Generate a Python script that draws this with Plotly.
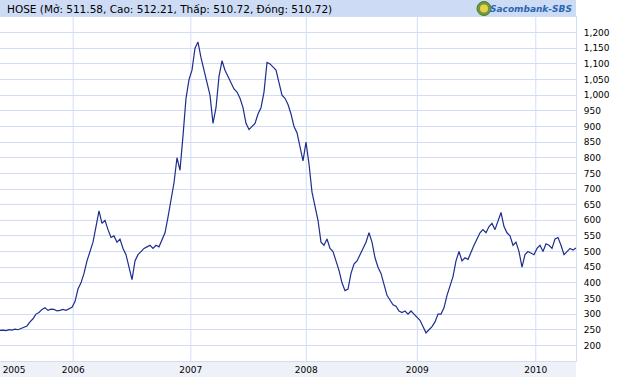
import plotly.graph_objects as go

hose_values = [
    248, 249, 247, 250, 249, 252, 250, 254, 258, 262,
    275, 285, 300, 305, 315, 320, 312, 316, 315, 310,
    312, 315, 312, 318, 322, 340, 380, 400, 430, 470,
    500, 530, 580, 630, 590, 600, 570, 545, 550, 530,
    540, 510, 490, 450, 410, 470, 490, 500, 510, 515,
    520, 510, 520, 515, 535, 560, 610, 670, 720, 800,
    760, 870, 990, 1050, 1080, 1150, 1170, 1120, 1080, 1040,
    1000, 910, 960, 1060, 1110, 1080, 1060, 1040, 1020, 1010,
    990, 960, 910, 890, 900, 910, 940, 960, 1010, 1105,
    1100, 1090, 1080, 1040, 1000, 990, 970, 940, 900, 880,
    830, 790, 850, 780, 690, 640, 600, 530, 520, 540,
    510, 500, 470, 440, 400, 375, 380, 430, 460, 470,
    490, 510, 530, 560, 530, 480, 450, 430, 390, 360,
    345, 330, 325, 310, 305, 310, 300, 310, 300, 290,
    280, 260, 240, 250, 260, 275, 300, 300, 320, 360,
    390, 420, 470, 500, 470, 480, 475, 500, 520, 540,
    560, 570, 560, 580, 590, 570, 600, 625, 580, 560,
    550, 520, 530, 500, 450, 490, 500, 495, 490, 510,
    520, 500, 525, 520, 510, 540, 545, 520, 490, 500,
    510, 505, 511,
]
sessions = list(range(len(hose_values)))

year_labels = ["2005", "2006", "2007", "2008", "2009", "2010"]
year_label_sessions = [4.7, 24.4, 63.6, 102.1, 139.1, 178.6]
year_start_sessions = [24.4, 63.6, 102.1, 139.1, 178.6]
y_ticks = list(range(200, 1201, 50))

title_text = "HOSE (Mở: 511.58, Cao: 512.21, Thấp: 510.72, Đóng: 510.72)"
logo_text = "Sacombank-SBS"

GRID = "#d2ddf5"
HEADER = "#cddbf5"
FOOTER = "#eef1f8"
LINE = "#1f2d8c"

W, H = 617, 377
ML, MR, MT, MB = 0, 41, 17, 16
PW, PH = W - ML - MR, H - MT - MB

fig = go.Figure()
fig.add_trace(go.Scatter(
    x=sessions, y=hose_values, mode="lines",
    line=dict(color=LINE, width=1.2), hoverinfo="skip", showlegend=False,
))

shapes = []
# header band
shapes.append(dict(type="rect", xref="paper", yref="paper", x0=0, x1=1,
                   y0=1, y1=1 + MT / PH, fillcolor=HEADER, line_width=0, layer="below"))
# footer band
shapes.append(dict(type="rect", xref="paper", yref="paper", x0=0, x1=1,
                   y0=-MB / PH, y1=0, fillcolor=FOOTER, line_width=0, layer="below"))
# vertical year grid lines
for s in year_start_sessions:
    shapes.append(dict(type="line", xref="x", yref="paper", x0=s, x1=s, y0=0, y1=1,
                       line=dict(color=GRID, width=1), layer="below"))
# logo emblem
cx, cy = 484 / PW, 1 + (MT - 8.5) / PH
rx, ry = 7 / PW, 7 / PH
shapes.append(dict(type="circle", xref="paper", yref="paper",
                   x0=cx - rx, x1=cx + rx, y0=cy - ry, y1=cy + ry,
                   fillcolor="#6f9a3c", line=dict(color="#4f7a2a", width=1)))
rx2, ry2 = 4 / PW, 4 / PH
shapes.append(dict(type="circle", xref="paper", yref="paper",
                   x0=cx - rx2, x1=cx + rx2, y0=cy - ry2, y1=cy + ry2,
                   fillcolor="#e8d24a", line_width=0))

annotations = [
    dict(text=title_text, xref="paper", yref="paper", x=5 / PW, y=1 + (MT / 2) / PH,
         xanchor="left", yanchor="middle", showarrow=False,
         font=dict(family="DejaVu Sans", size=10.5, color="#000000")),
    dict(text="<b><i>" + logo_text + "</i></b>", xref="paper", yref="paper",
         x=574 / PW, y=1 + (MT / 2) / PH, xanchor="right", yanchor="middle",
         showarrow=False, font=dict(family="DejaVu Sans", size=9, color="#2b66b0")),
]

fig.update_layout(
    width=W, height=H,
    margin=dict(l=ML, r=MR, t=MT, b=MB, pad=0),
    paper_bgcolor="white", plot_bgcolor="white",
    shapes=shapes, annotations=annotations,
    xaxis=dict(range=[0, 192], tickmode="array", tickvals=year_label_sessions,
               ticktext=year_labels, showgrid=False, zeroline=False,
               showline=True, linecolor=GRID, linewidth=1, mirror=True,
               ticks="", tickfont=dict(family="DejaVu Sans", size=9, color="#000000")),
    yaxis=dict(range=[150, 1250], side="right", tickmode="array", tickvals=y_ticks,
               tickformat=",", showgrid=True, gridcolor=GRID, gridwidth=1,
               zeroline=False, showline=True, linecolor=GRID, linewidth=1, mirror=True,
               ticks="", ticklabelstandoff=5,
               tickfont=dict(family="DejaVu Sans", size=9, color="#000000")),
)

fig.write_html("out.html",
               config={"displayModeBar": False},
               post_script="document.body.style.margin='0';document.body.style.padding='0';")
